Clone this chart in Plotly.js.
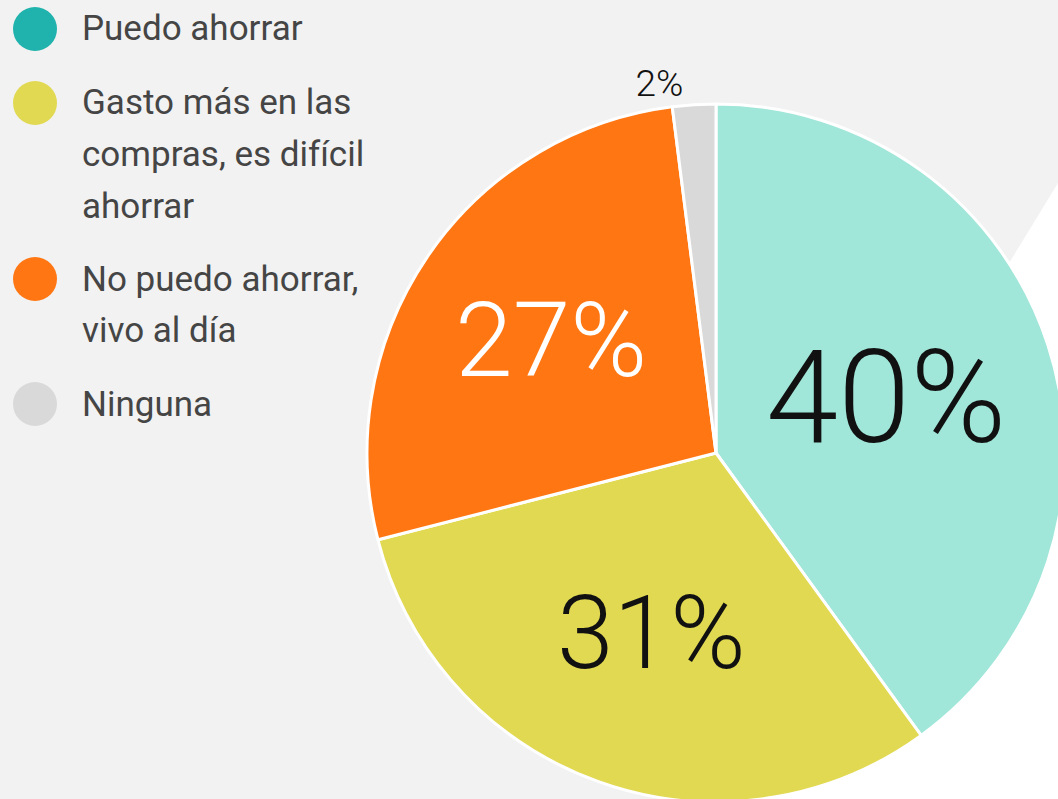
<!DOCTYPE html>
<html>
<head>
<meta charset="utf-8">
<script src="https://cdn.plot.ly/plotly-3.0.1.min.js"></script>
<style>
html,body{margin:0;padding:0;overflow:hidden;background:#f2f2f2;}
#chart{width:1080px;height:810px;}
</style>
</head>
<body>
<div id="chart"></div>
<script>
// ---- data ----
const labels = ['Puedo ahorrar', 'Gasto más en las compras, es difícil ahorrar', 'No puedo ahorrar, vivo al día', 'Ninguna'];
const values = [40, 31, 27, 2];
const sliceColors = ['#a0e6d9', '#e1d952', '#ff7612', '#d9d9d9'];
const legendColors = ['#20b2ac', '#e1d952', '#ff7612', '#d9d9d9'];
const legendLines = [
  ['Puedo ahorrar'],
  ['Gasto más en las', 'compras, es difícil', 'ahorrar'],
  ['No puedo ahorrar,', 'vivo al día'],
  ['Ninguna']
];
const labelColors = ['#111111', '#111111', '#ffffff', '#111111'];
const labelSizes = [130, 102, 104, 37];
const labelPositions = ['inside', 'inside', 'inside', 'outside'];

// ---- layout helpers (pixels -> paper) ----
const W = 1080, H = 810;
const px = x => x / W;
const py = y => 1 - y / H;

const cx = 716, cy = 453, R = 349;

const trace = {
  type: 'pie',
  labels: labels,
  values: values,
  sort: false,
  direction: 'clockwise',
  rotation: 0,
  marker: {colors: sliceColors, line: {color: '#ffffff', width: 3}},
  textinfo: 'percent',
  texttemplate: '%{percent:.0%}',
  textposition: labelPositions,
  insidetextorientation: 'horizontal',
  textfont: {family: 'Roboto, sans-serif', size: labelSizes, color: labelColors, weight: 300},
  outsidetextfont: {family: 'Roboto, sans-serif', size: labelSizes, color: labelColors, weight: 300},
  domain: {x: [px(cx - R), px(cx + R)], y: [py(cy + R), py(cy - R)]},
  showlegend: false,
  hoverinfo: 'label+percent'
};

const shapes = [{
  type: 'path', xref: 'paper', yref: 'paper', layer: 'below',
  path: `M ${px(1080)} ${py(147)} L ${px(1080)} ${py(810)} L ${px(675)} ${py(810)} Z`,
  fillcolor: '#ffffff', line: {width: 0}
}];
const annotations = [];
const itemCenters = [29, 103, 279, 404];
const lineStep = 51.5;
legendLines.forEach((lines, i) => {
  shapes.push({
    type: 'circle', xref: 'paper', yref: 'paper', layer: 'above',
    xsizemode: 'pixel', ysizemode: 'pixel',
    xanchor: px(35), yanchor: py(itemCenters[i]),
    x0: -22, x1: 22, y0: -22, y1: 22,
    fillcolor: legendColors[i], line: {width: 0}
  });
  lines.forEach((t, j) => {
    annotations.push({
      xref: 'paper', yref: 'paper',
      x: px(80), y: py(itemCenters[i] + j * lineStep),
      xanchor: 'left', yanchor: 'middle',
      text: t, showarrow: false,
      font: {family: 'Roboto, sans-serif', size: 35, color: '#454545'}
    });
  });
});

const layout = {
  width: W, height: H,
  margin: {l: 0, r: 0, t: 0, b: 0, pad: 0},
  paper_bgcolor: '#f2f2f2',
  plot_bgcolor: '#f2f2f2',
  shapes: shapes,
  annotations: annotations,
  showlegend: false
};

Plotly.newPlot('chart', [trace], layout, {displayModeBar: false, staticPlot: true});
</script>
</body>
</html>
